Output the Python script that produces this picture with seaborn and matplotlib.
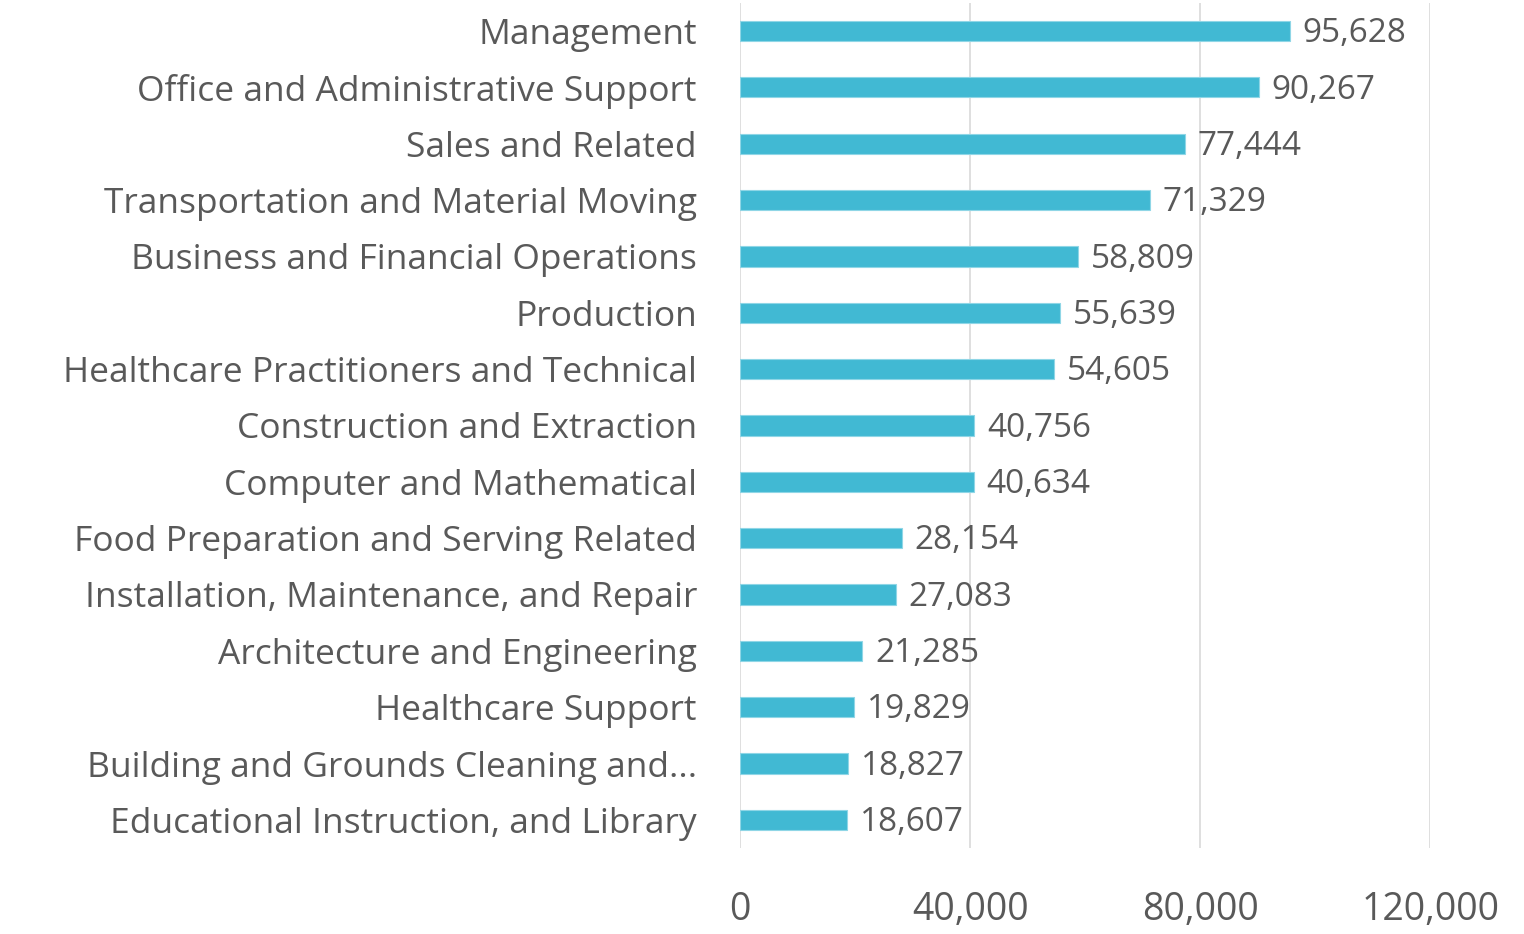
import matplotlib
matplotlib.use("Agg")
import matplotlib.pyplot as plt
import seaborn as sns
import pandas as pd

categories = [
    "Management",
    "Office and Administrative Support",
    "Sales and Related",
    "Transportation and Material Moving",
    "Business and Financial Operations",
    "Production",
    "Healthcare Practitioners and Technical",
    "Construction and Extraction",
    "Computer and Mathematical",
    "Food Preparation and Serving Related",
    "Installation, Maintenance, and Repair",
    "Architecture and Engineering",
    "Healthcare Support",
    "Building and Grounds Cleaning and...",
    "Educational Instruction, and Library",
]
values = [95628, 90267, 77444, 71329, 58809, 55639, 54605, 40756, 40634,
          28154, 27083, 21285, 19829, 18827, 18607]
xticks = [0, 40000, 80000, 120000]

df = pd.DataFrame({"category": categories, "value": values})

sns.set_theme(style="white")
plt.rcParams["font.family"] = ["Open Sans", "DejaVu Sans"]

text_color = "#595959"
bar_color = "#41B9D3"

fig = plt.figure(figsize=(15.24, 9.34), dpi=100)
ax = fig.add_axes([0.4856, 0.092, 0.4528, 0.905])

sns.barplot(data=df, x="value", y="category", orient="h", color=bar_color,
            width=0.36, ax=ax, saturation=1, edgecolor="#8FD6E6", linewidth=0.8)

ax.set_xlim(0, 120000)
ax.set_ylim(len(categories) - 0.5, -0.5)
ax.set_xticks(xticks)
ax.set_xticklabels([f"{t:,}" for t in xticks], fontsize=27, color=text_color)
ax.tick_params(axis="x", length=0, pad=31)
ax.tick_params(axis="y", length=0, pad=31, labelsize=25.5, labelcolor=text_color)
ax.set_xlabel("")
ax.set_ylabel("")
for s in ax.spines.values():
    s.set_visible(False)
ax.grid(axis="x", color="#D9D9D9", linewidth=1.2)
ax.set_axisbelow(True)

for i, v in enumerate(values):
    ax.annotate(f"{v:,}", xy=(v, i), xytext=(9, -2), textcoords="offset points",
                ha="left", va="center", fontsize=24, color=text_color)

fig.savefig("out.png", dpi=100)
